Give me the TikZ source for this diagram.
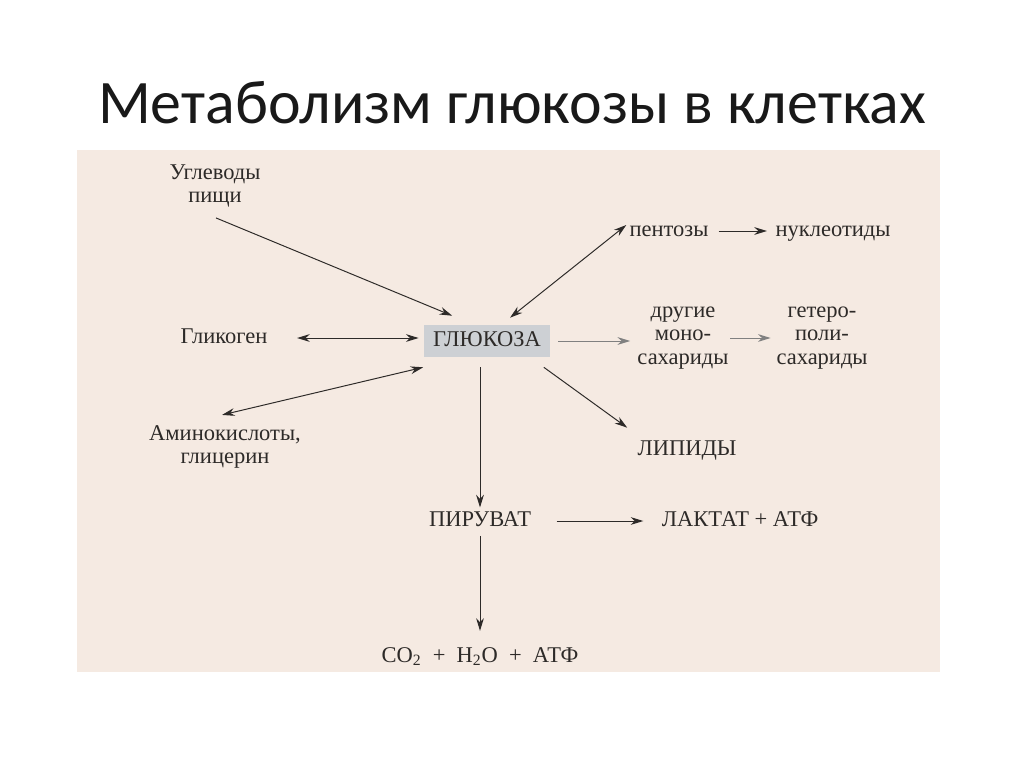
\documentclass[tikz,border=0pt]{standalone}
\usepackage{fontspec}
\setmainfont{Liberation Serif}
\newfontfamily\titlefont{Carlito}
\usetikzlibrary{arrows.meta,calc}
\definecolor{panelbg}{RGB}{245,234,226}
\definecolor{boxgray}{RGB}{205,208,212}
\definecolor{inkgray}{RGB}{45,42,40}
\begin{document}
\begin{tikzpicture}[x=0.025cm, y=-0.025cm, node distance=4.1cm,
    every node/.style={font=\fontsize{16}{17}\selectfont, text=inkgray, align=center, inner sep=0pt},
    oneline/.style={text height=2.2ex, text depth=0.6ex},
    flow/.style={-{Stealth[length=9pt,width=5.5pt]}, line width=0.7pt, draw=inkgray},
    both/.style={{Stealth[length=9pt,width=5.5pt]}-{Stealth[length=9pt,width=5.5pt]}, line width=0.7pt, draw=inkgray},
    pale/.style={flow, draw=gray}]
    \fill[white] (0,0) rectangle (1024,768);
    \fill[panelbg] (77,150) rectangle (940,672);
    \node (title) [text=black!90] at (512,103) {\titlefont\fontsize{44}{52}\selectfont Метаболизм глюкозы в клетках};

    \node (glucose) [oneline, fill=boxgray, minimum width=3.125cm, minimum height=0.8cm] at (487,341) {ГЛЮКОЗА};
    \node (carbs) at (215,186) {Углеводы\\пищи};
    \node (glycogen) [oneline] at (224,338) {Гликоген};
    \node (amino) at (225,447) {Аминокислоты,\\глицерин};
    \node (pentoses) [oneline] at (669,231) {пентозы};
    \node (nucleotides) [oneline, right of=pentoses] {нуклеотиды};
    \node (others) at (683,338) {другие\\моно-\\сахариды};
    \node (hetero) [right of=others, node distance=3.475cm] {гетеро-\\поли-\\сахариды};
    \node (lipids) [oneline] at (687,450) {ЛИПИДЫ};
    \node (pyruvate) [oneline] at (480,521) {ПИРУВАТ};
    \node (lactate) [oneline, right of=pyruvate, node distance=6.5cm] {ЛАКТАТ + АТФ};
    \node (co2) [oneline, below of=pyruvate, node distance=3.4cm] {CO\textsubscript{2} \ + \ H\textsubscript{2}O \ + \ АТФ};

    \draw[flow] ($(carbs.south)+(1,10)$) -- ($(glucose.north west)+(28,-9)$);
    \draw[both, shorten <=21pt, shorten >=4pt] (glycogen.east) -- (glycogen.east -| glucose.west);
    \draw[both] ($(glucose.north)+(23,-7)$) -- ($(pentoses.west)+(-3,-6)$);
    \draw[both] ($(glucose.south west)+(-1,10)$) -- ($(amino.north)+(-3,-10)$);
    \draw[pale, shorten <=6pt, shorten >=5pt] (glucose.east) -- (glucose.east -| others.west);
    \draw[pale, shorten <=1pt, shorten >=4pt] (others.east) -- (hetero.west);
    \draw[flow] ($(glucose.south east)+(-6,10)$) -- ($(lipids.north west)+(-10,-13)$);
    \draw[flow, shorten <=7pt, shorten >=3pt] (pyruvate.north |- glucose.south) -- (pyruvate.north);
    \draw[flow, shorten <=7pt, shorten >=6pt] (pentoses) -- (nucleotides);
    \draw[flow, shorten <=18pt, shorten >=13pt] (pyruvate) -- (lactate);
    \draw[flow, shorten <=4pt, shorten >=12pt] (pyruvate) -- (co2);
\end{tikzpicture}
\end{document}
